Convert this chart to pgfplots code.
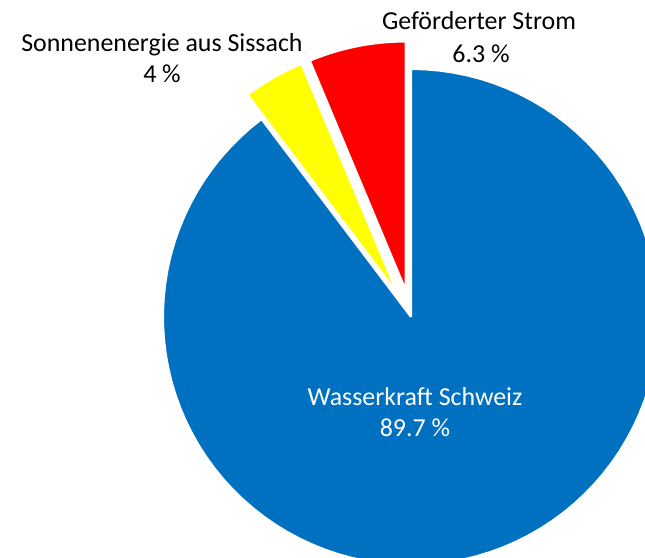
\documentclass[border=0pt]{standalone}
\usepackage{pgfplots}
\pgfplotsset{compat=1.18}
\usepackage{fontspec}
\setmainfont{Carlito}
\definecolor{cblue}{HTML}{0070C0}
\definecolor{cyellow}{HTML}{FFFF00}
\definecolor{cred}{HTML}{FF0000}
% data (percent)
\def\vW{89.7}% Wasserkraft Schweiz
\def\vS{4}%    Sonnenenergie aus Sissach
\def\vG{6.3}%  Gefoerderter Strom
\begin{document}
\begin{tikzpicture}
\pgfmathsetmacro{\cx}{411}
\pgfmathsetmacro{\cy}{241}
\pgfmathsetmacro{\R}{248}
\pgfmathsetmacro{\ex}{28}
% angles (clockwise from 12 o'clock)
\pgfmathsetmacro{\aWs}{90}
\pgfmathsetmacro{\aWe}{90-3.6*\vW}
\pgfmathsetmacro{\aSs}{\aWe}
\pgfmathsetmacro{\aSe}{\aSs-3.6*\vS}
\pgfmathsetmacro{\aGs}{\aSe}
\pgfmathsetmacro{\aGe}{\aGs-3.6*\vG}
\pgfmathsetmacro{\Sx}{\cx+\ex*cos((\aSs+\aSe)/2)}
\pgfmathsetmacro{\Sy}{\cy+\ex*sin((\aSs+\aSe)/2)}
\pgfmathsetmacro{\Gx}{\cx+\ex*cos((\aGs+\aGe)/2)}
\pgfmathsetmacro{\Gy}{\cy+\ex*sin((\aGs+\aGe)/2)}
\begin{axis}[scale only axis, width=645bp, height=558bp,
  xmin=0, xmax=645, ymin=0, ymax=558, hide axis, clip=true,
  domain=-1:101, samples=103, variable=\t]
\addplot[fill=cblue, draw=white, line width=2bp, line join=miter]
  ({\cx+(\t>=0)*(\t<=100)*\R*cos(\aWs+(\aWe-\aWs)*\t/100)},
   {\cy+(\t>=0)*(\t<=100)*\R*sin(\aWs+(\aWe-\aWs)*\t/100)});
\addplot[fill=cyellow, draw=white, line width=2bp, line join=miter]
  ({\Sx+(\t>=0)*(\t<=100)*\R*cos(\aSs+(\aSe-\aSs)*\t/100)},
   {\Sy+(\t>=0)*(\t<=100)*\R*sin(\aSs+(\aSe-\aSs)*\t/100)});
\addplot[fill=cred, draw=white, line width=2bp, line join=miter]
  ({\Gx+(\t>=0)*(\t<=100)*\R*cos(\aGs+(\aGe-\aGs)*\t/100)},
   {\Gy+(\t>=0)*(\t<=100)*\R*sin(\aGs+(\aGe-\aGs)*\t/100)});
\node[anchor=base, font=\fontsize{26}{30}\selectfont, text=white] at (axis cs:415,152) {Wasserkraft Schweiz};
\node[anchor=base, font=\fontsize{26}{30}\selectfont, text=white] at (axis cs:415,121) {89.7~\%};
\node[anchor=base, font=\fontsize{26}{30}\selectfont] at (axis cs:162,506) {Sonnenenergie aus Sissach};
\node[anchor=base, font=\fontsize{26}{30}\selectfont] at (axis cs:162,475) {4~\%};
\node[anchor=base, font=\fontsize{26}{30}\selectfont] at (axis cs:479,528) {Geförderter Strom};
\node[anchor=base, font=\fontsize{26}{30}\selectfont] at (axis cs:481,495) {6.3~\%};
\end{axis}
\pgfresetboundingbox
\useasboundingbox (current axis.south west) rectangle (current axis.north east);
\end{tikzpicture}
\end{document}
